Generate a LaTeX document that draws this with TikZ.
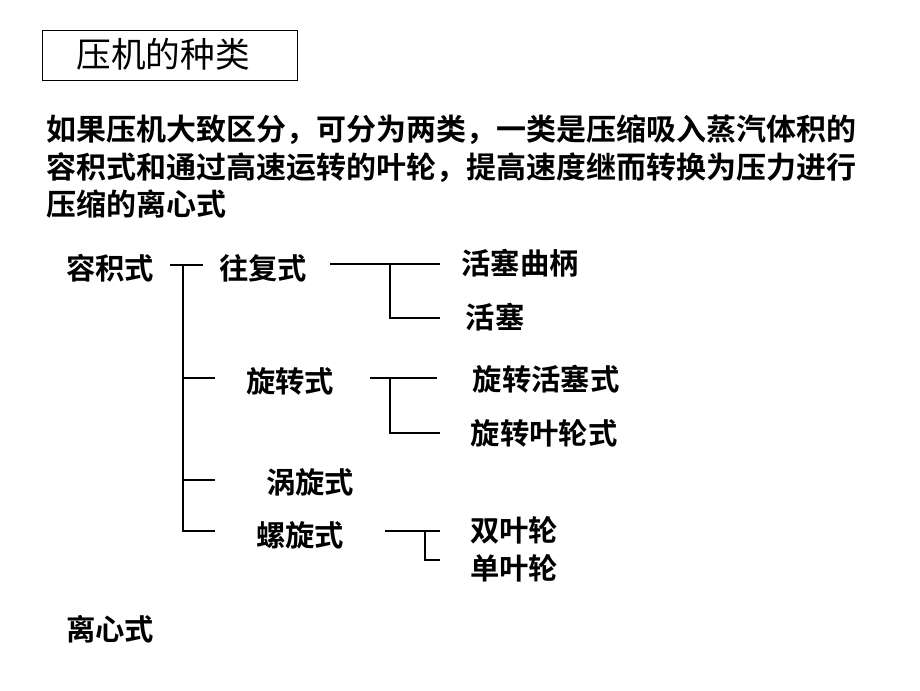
\documentclass[tikz,border=0pt]{standalone}
\usepackage{fontspec}
\setmainfont{Noto Sans CJK SC}[BoldFont={Noto Sans CJK SC Bold}]
\begin{document}
\begin{tikzpicture}[x=0.75pt,y=-0.75pt,
  t/.style={font=\fontsize{22}{24}\selectfont\bfseries,inner sep=0pt},
  p/.style={font=\fontsize{22.5}{25}\selectfont\bfseries,inner sep=0pt,anchor=west},
  ln/.style={line width=1.5pt}]
\useasboundingbox (0,0) rectangle (920,690);
\node[draw,line width=1pt,minimum width=255*0.75pt,minimum height=50*0.75pt,anchor=north west] (box) at (42,30) {};
\node[font=\fontsize{26}{28}\selectfont,inner sep=0pt] (title) at (163,54) {压机的种类};
\node[p] (p1) at (46,130) {如果压机大致区分，可分为两类，一类是压缩吸入蒸汽体积的};
\node[p] (p2) at (46,168) {容积式和通过高速运转的叶轮，提高速度继而转换为压力进行};
\node[p] (p3) at (46,204) {压缩的离心式};
\node[t] (rj) at (110,268) {容积式};
\node[t] (wf) at (263,268) {往复式};
\node[t] (hsqb) at (520,263) {活塞曲柄};
\node[t] (hs) at (495,317) {活塞};
\node[t] (xz) at (290,381) {旋转式};
\node[t] (xzhs) at (546,379) {旋转活塞式};
\node[t] (xzyl) at (544,433) {旋转叶轮式};
\node[t] (wx) at (310,482) {涡旋式};
\node[t] (lx) at (300,535) {螺旋式};
\node[t] (syl) at (514,530) {双叶轮};
\node[t] (dyl) at (514,568) {单叶轮};
\node[t] (lxs) at (110,629) {离心式};
\coordinate (a1) at (170,265); \coordinate (a2) at (203,265);
\coordinate (v0) at (183,265); \coordinate (v1) at (183,531);
\coordinate (b1) at (215,378); \coordinate (b1s) at (183,378);
\coordinate (b2) at (215,480); \coordinate (b2s) at (183,480);
\coordinate (b3) at (215,531);
\draw[ln] (a1)--(a2); \draw[ln] (v0)--(v1)--(b3);
\draw[ln] (b1s)--(b1); \draw[ln] (b2s)--(b2);
\coordinate (c1) at (330,264); \coordinate (c2) at (440,264);
\coordinate (c3) at (390,264); \coordinate (c4) at (390,318); \coordinate (c5) at (440,318);
\draw[ln] (c1)--(c2); \draw[ln] (c3)--(c4)--(c5);
\coordinate (d1) at (370,378); \coordinate (d2) at (437,378);
\coordinate (d3) at (390,378); \coordinate (d4) at (390,433); \coordinate (d5) at (440,433);
\draw[ln] (d1)--(d2); \draw[ln] (d3)--(d4)--(d5);
\coordinate (e1) at (385,531); \coordinate (e2) at (440,531);
\coordinate (e3) at (425,531); \coordinate (e4) at (425,560); \coordinate (e5) at (440,560);
\draw[ln] (e1)--(e2); \draw[ln] (e3)--(e4)--(e5);
\end{tikzpicture}
\end{document}
